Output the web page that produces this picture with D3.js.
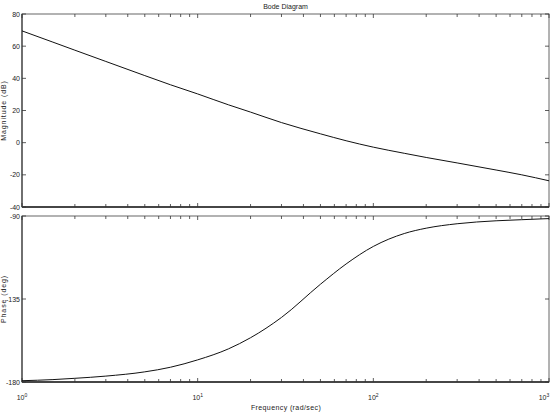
<!DOCTYPE html>
<html>
<head>
<meta charset="utf-8">
<script src="https://cdn.jsdelivr.net/npm/d3@7"></script>
<style>
  body { margin: 0; background: #fff; }
  text { font-family: "Liberation Sans Narrow", "Liberation Sans", Arial, sans-serif; fill: #222; }
</style>
</head>
<body>
<div id="chart"></div>
<script>
// frequencies (rad/sec)
const freq = [1, 1.5, 2, 3, 5, 7, 10, 15, 20, 30, 50, 70, 100, 150, 200, 300, 500, 700, 1000]
// magnitude in dB
const magDb = [69.5, 62.5, 57.5, 50.5, 41.7, 36, 30.3, 23.5, 19, 12.5, 5.5, 1.2, -2.8, -6.6, -9.2, -12.6, -17, -20, -23.7]
// phase in degrees
const phaseDeg = [-179.3, -178.7, -178, -176.8, -174.5, -172, -168, -162, -156, -145, -127, -116, -106.5, -99.5, -96.6, -94.2, -92.6, -92, -91.4]
const magTicks = [80, 60, 40, 20, 0, -20, -40]
const phaseTicks = [-90, -135, -180]
const decades = [0, 1, 2, 3]

const width = 552, height = 415
const left = 22, right = 549
const top1 = 14, bot1 = 207, top2 = 216, bot2 = 382

const svg = d3.select('#chart').append('svg')
  .attr('width', width)
  .attr('height', height)

const x = d3.scaleLog().domain([1, 1000]).range([left, right])
const yMag = d3.scaleLinear().domain([-40, 80]).range([bot1, top1])
const yPh = d3.scaleLinear().domain([-180, -90]).range([bot2, top2])

// minor + major log ticks
const xTicks = []
for (let d = 0; d < 3; d++) {
  for (let m = 1; m < 10; m++) xTicks.push(m * Math.pow(10, d))
}
xTicks.push(1000)

function panel(y, ticks, top, bot, data, label) {
  const g = svg.append('g')
  // box
  g.append('rect')
    .attr('x', left).attr('y', top)
    .attr('width', right - left).attr('height', bot - top)
    .attr('fill', 'none').attr('stroke', '#666').attr('stroke-width', 1)
  g.append('line')
    .attr('x1', left).attr('x2', right).attr('y1', bot).attr('y2', bot)
    .attr('stroke', '#222').attr('stroke-width', 1.6)
  g.append('line')
    .attr('x1', left).attr('x2', left).attr('y1', top).attr('y2', bot)
    .attr('stroke', '#444').attr('stroke-width', 1.2)

  // x ticks, inward, top & bottom
  xTicks.forEach(t => {
    const major = Math.abs(Math.log10(t) % 1) < 1e-9
    const len = major ? 4 : 3
    g.append('line')
      .attr('x1', x(t)).attr('x2', x(t)).attr('y1', bot).attr('y2', bot - len)
      .attr('stroke', '#333').attr('stroke-width', 0.8)
    g.append('line')
      .attr('x1', x(t)).attr('x2', x(t)).attr('y1', top).attr('y2', top + len)
      .attr('stroke', '#333').attr('stroke-width', 0.8)
  })

  // y ticks + labels
  ticks.forEach(t => {
    g.append('line')
      .attr('x1', left).attr('x2', left + 4).attr('y1', y(t)).attr('y2', y(t))
      .attr('stroke', '#333').attr('stroke-width', 0.8)
    g.append('line')
      .attr('x1', right).attr('x2', right - 4).attr('y1', y(t)).attr('y2', y(t))
      .attr('stroke', '#333').attr('stroke-width', 0.8)
    g.append('text')
      .attr('x', left - 2).attr('y', y(t) + 2.5)
      .attr('text-anchor', 'end')
      .attr('font-size', 7)
      .text(t)
  })

  // y label
  g.append('text')
    .attr('transform', `translate(6, ${(top + bot) / 2}) rotate(-90)`)
    .attr('text-anchor', 'middle')
    .attr('font-size', 7)
    .attr('letter-spacing', 0.9)
    .text(label)

  // curve
  const line = d3.line()
    .x((d, i) => x(freq[i]))
    .y(d => y(d))
    .curve(d3.curveMonotoneX)
  g.append('path')
    .datum(data)
    .attr('d', line)
    .attr('fill', 'none')
    .attr('stroke', '#111')
    .attr('stroke-width', 1)
}

panel(yMag, magTicks, top1, bot1, magDb, 'Magnitude (dB)')
panel(yPh, phaseTicks, top2, bot2, phaseDeg, 'Phase (deg)')

// title
svg.append('text')
  .attr('x', (left + right) / 2).attr('y', 9)
  .attr('text-anchor', 'middle')
  .attr('font-size', 7)
  .text('Bode Diagram')

// decade labels with superscripts
decades.forEach(d => {
  const t = svg.append('text')
    .attr('x', x(Math.pow(10, d)) - (d === 3 ? 5 : 0))
    .attr('y', 400)
    .attr('text-anchor', 'middle')
    .attr('font-size', 7)
  t.append('tspan').text('10')
  t.append('tspan').attr('dy', -3).attr('font-size', 5).text(d)
})

svg.append('text')
  .attr('x', 286).attr('y', 410)
  .attr('text-anchor', 'middle')
  .attr('font-size', 7)
  .attr('letter-spacing', 0.4)
  .text('Frequency  (rad/sec)')
</script>
</body>
</html>
